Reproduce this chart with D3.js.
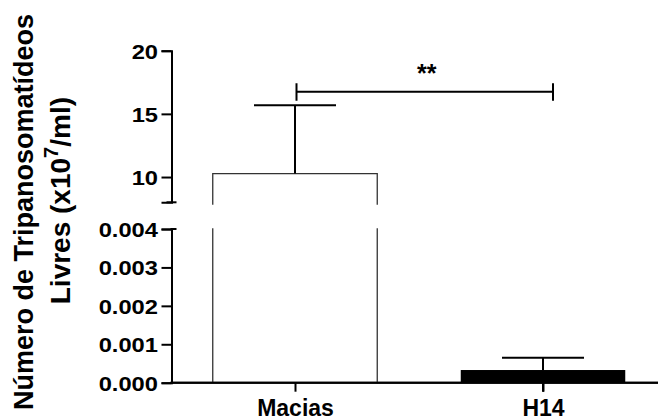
<!DOCTYPE html>
<html>
<head>
<meta charset="utf-8">
<script src="https://cdn.jsdelivr.net/npm/d3@7"></script>
<style>
  body { margin: 0; background: #fff; }
  svg { display: block; font-family: "Liberation Sans", Arial, sans-serif; }
</style>
</head>
<body>
<svg id="chart" width="658" height="417"></svg>
<script>
// data
const categories = ["Macias", "H14"];
const means = [10.27, 0.00033];
const errors = [5.42, 0.00032];
const upperTicks = [10, 15, 20];
const lowerTicks = [0, 0.001, 0.002, 0.003, 0.004];
const sigLabel = "**";
const sigValue = 16.76;

const svg = d3.select("#chart");

// broken y axis: two scales
const yUpper = d3.scaleLinear().domain([8, 20]).range([202.3, 50.7]);
const yLower = d3.scaleLinear().domain([0, 0.004]).range([382.7, 229]);
const axisX = 171.5;

const x = d3.scalePoint().domain(categories).range([295, 543]);
const barW = 164.5;
const stretch = 1.13; // tick labels are a bit wide in the original

// upper y axis
const gUp = svg.append("g")
    .attr("transform", "translate(" + axisX + ",0)")
    .call(d3.axisLeft(yUpper).tickValues(upperTicks).tickSizeOuter(0).tickSize(10).tickPadding(3));
// lower y axis
const gLow = svg.append("g")
    .attr("transform", "translate(" + axisX + ",0)")
    .call(d3.axisLeft(yLower).tickValues(lowerTicks).tickSizeOuter(0).tickSize(10).tickPadding(3)
        .tickFormat(d3.format(".3f")));

[gUp, gLow].forEach(g => {
    g.select(".domain").attr("stroke", "#000").attr("stroke-width", 2);
    g.selectAll(".tick line").attr("stroke", "#000").attr("stroke-width", 2);
    g.selectAll(".tick text")
        .attr("fill", "#000")
        .attr("x", -13.5 / stretch)
        .attr("transform", "scale(" + stretch + ",1)")
        .style("font-size", "21px")
        .style("font-weight", "bold")
        .attr("dy", "0.36em");
});

// break caps at the ends of the axis segments
svg.append("line")
    .attr("x1", axisX - 5).attr("x2", axisX + 5)
    .attr("y1", yUpper(8)).attr("y2", yUpper(8))
    .attr("stroke", "#000").attr("stroke-width", 2);
svg.append("line")
    .attr("x1", axisX - 1).attr("x2", axisX + 5)
    .attr("y1", yLower(0.004)).attr("y2", yLower(0.004))
    .attr("stroke", "#000").attr("stroke-width", 2);

// x axis
const gx = svg.append("g")
    .attr("transform", "translate(0," + yLower(0) + ")")
    .call(d3.axisBottom(x).tickSizeOuter(0).tickSize(9).tickPadding(9));
gx.select(".domain").attr("d", "M" + (axisX - 1) + ",0H658").attr("stroke", "#000").attr("stroke-width", 2);
gx.selectAll(".tick line").attr("stroke", "#000").attr("stroke-width", 2);
gx.selectAll(".tick text")
    .attr("fill", "#000")
    .style("font-size", "23px")
    .style("font-weight", "bold")
    .attr("y", 33.6)
    .attr("dy", 0);

// bars
categories.forEach((c, i) => {
    const cx = x(c);
    const v = means[i];
    const x0 = cx - barW / 2, x1 = cx + barW / 2;
    if (v > yLower.domain()[1]) {
        // tall bar crosses the break
        const top = yUpper(v);
        svg.append("path")
            .attr("d", "M" + x0 + "," + (yUpper(8) + 2.4) + "V" + top + "H" + x1 + "V" + (yUpper(8) + 2.4))
            .attr("fill", "#fff").attr("stroke", "#333").attr("stroke-width", 1.3);
        svg.append("path")
            .attr("d", "M" + x0 + "," + (yLower(0.004) - 0.7) + "V" + yLower(0) + "M" + x1 + "," + (yLower(0.004) - 0.7) + "V" + yLower(0))
            .attr("fill", "none").attr("stroke", "#333").attr("stroke-width", 1.3);
        // error bar
        const eTop = yUpper(v + errors[i]);
        svg.append("line").attr("x1", cx).attr("x2", cx).attr("y1", top).attr("y2", eTop)
            .attr("stroke", "#000").attr("stroke-width", 2);
        svg.append("line").attr("x1", cx - 41).attr("x2", cx + 41).attr("y1", eTop).attr("y2", eTop)
            .attr("stroke", "#000").attr("stroke-width", 2);
    } else {
        const top = yLower(v);
        const eTop = yLower(v + errors[i]);
        svg.append("line").attr("x1", cx).attr("x2", cx).attr("y1", top).attr("y2", eTop)
            .attr("stroke", "#000").attr("stroke-width", 2);
        svg.append("line").attr("x1", cx - 41).attr("x2", cx + 41).attr("y1", eTop).attr("y2", eTop)
            .attr("stroke", "#000").attr("stroke-width", 2);
        svg.append("rect")
            .attr("x", x0).attr("y", top)
            .attr("width", barW).attr("height", yLower(0) - top)
            .attr("fill", "#000");
    }
});

// re-draw x axis line and ticks over the bars
svg.append("line")
    .attr("x1", axisX - 1).attr("x2", 658)
    .attr("y1", yLower(0)).attr("y2", yLower(0))
    .attr("stroke", "#000").attr("stroke-width", 2);
svg.append("line")
    .attr("x1", x("H14")).attr("x2", x("H14"))
    .attr("y1", yLower(0) - 12).attr("y2", yLower(0) + 9)
    .attr("stroke", "#000").attr("stroke-width", 2);

// significance bracket
const sy = yUpper(sigValue);
const sx0 = x("Macias") + 1.5, sx1 = x("H14") + 10;
svg.append("path")
    .attr("d", "M" + sx0 + "," + (sy - 8.5) + "V" + (sy + 9) +
        "M" + sx0 + "," + sy + "H" + sx1 +
        "M" + sx1 + "," + (sy - 8.5) + "V" + (sy + 9))
    .attr("fill", "none").attr("stroke", "#000").attr("stroke-width", 2);
svg.append("text")
    .attr("x", (sx0 + sx1) / 2 + 2).attr("y", sy - 9.5)
    .attr("text-anchor", "middle")
    .style("font-size", "25px")
    .style("font-weight", "bold")
    .text(sigLabel);

// y axis title (two lines)
svg.append("text")
    .attr("transform", "translate(33,14) rotate(-90)")
    .attr("text-anchor", "end")
    .style("font-size", "27px")
    .style("font-weight", "bold")
    .text("Número de Tripanosomatídeos");
const t2 = svg.append("text")
    .attr("transform", "translate(70,97) rotate(-90)")
    .attr("text-anchor", "end")
    .style("font-size", "28px")
    .style("font-weight", "bold");
t2.append("tspan").text("Livres (x10");
t2.append("tspan").attr("dy", -12).style("font-size", "20px").text("7");
t2.append("tspan").attr("dy", 12).text("/ml)");
</script>
</body>
</html>
